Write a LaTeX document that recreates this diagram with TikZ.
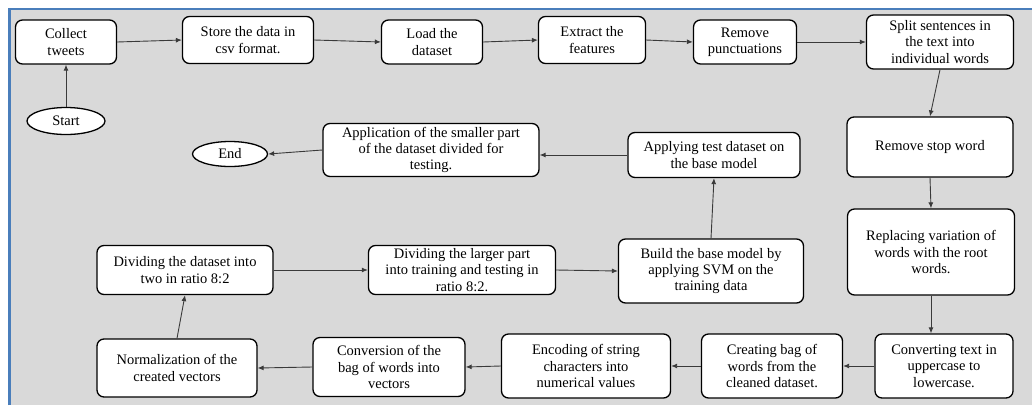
\documentclass[tikz,border=0pt]{standalone}
\usepackage{fontspec}
\setmainfont{Liberation Serif}
\usetikzlibrary{shapes.geometric,arrows.meta}
\definecolor{bggray}{HTML}{D9D9D9}
\definecolor{frameblue}{HTML}{4A7EBB}
\definecolor{linegray}{HTML}{3A3A3A}
\tikzset{
  box/.style={draw=black, line width=1.3pt, rounded corners=7pt, fill=white,
    align=center, inner sep=2pt, font=\fontsize{14.5}{16.3}\selectfont},
  oval/.style={draw=black, line width=1.3pt, ellipse, fill=white, inner sep=0pt,
    font=\fontsize{14.5}{16.3}\selectfont},
  arr/.style={draw=linegray, line width=0.9pt, -{Latex[length=6pt,width=5pt]}}
}
\begin{document}
\begin{tikzpicture}[x=1pt,y=-1pt]
\useasboundingbox (0,0) rectangle (1032,405);
\fill[white] (0,0) rectangle (1032,405);
\fill[bggray] (9,9) rectangle (1032,405);
\draw[frameblue, line width=1.5pt] (9,405) -- (9,9) -- (1032,9);
\draw[frameblue, line width=2.5pt] (9.5,405) -- (9.5,10);

\node[box, minimum width=101pt, minimum height=44pt] (collect) at (66,42) {Collect\\tweets};
\node[oval, minimum width=78pt, minimum height=27pt] (start) at (66,121) {Start};
\node[box, minimum width=131pt, minimum height=47pt] (store) at (248,40) {Store the data in\\csv format.};
\node[box, minimum width=101pt, minimum height=44pt] (load) at (432,42) {Load the\\dataset};
\node[box, minimum width=107pt, minimum height=47pt] (extract) at (592,40) {Extract the\\features};
\node[box, minimum width=103pt, minimum height=44pt] (punct) at (745,42) {Remove\\punctuations};
\node[box, minimum width=147pt, minimum height=54pt] (split) at (940,42) {Split sentences in\\the text into\\individual words};
\node[box, minimum width=166pt, minimum height=60pt] (stop) at (930,147) {Remove stop word};
\node[box, minimum width=167pt, minimum height=86pt] (root) at (931,252) {Replacing variation of\\words with the root\\words.};
\node[box, minimum width=138pt, minimum height=64pt] (lower) at (944,366) {Converting text in\\uppercase to\\lowercase.};
\node[box, minimum width=141pt, minimum height=64pt] (bag) at (772,366) {Creating bag of\\words from the\\cleaned dataset.};
\node[box, minimum width=169pt, minimum height=64pt] (encode) at (586,366) {Encoding of string\\characters into\\numerical values};
\node[box, minimum width=152pt, minimum height=59pt] (vect) at (389,367) {Conversion of the\\bag of words into\\vectors};
\node[box, minimum width=160pt, minimum height=58pt] (norm) at (177,368) {Normalization of the\\created vectors};
\node[box, minimum width=176pt, minimum height=49pt] (divide) at (185,270) {Dividing the dataset into\\two in ratio 8:2};
\node[box, minimum width=187pt, minimum height=49pt] (larger) at (462,270) {Dividing the larger part\\into training and testing in\\ratio 8:2.};
\node[box, minimum width=185pt, minimum height=64pt] (build) at (711,271) {Build the base model by\\applying SVM on the\\training data};
\node[box, minimum width=172pt, minimum height=45pt] (apply) at (714,155) {Applying test dataset on\\the base model};
\node[box, minimum width=216pt, minimum height=53pt] (small) at (431,150) {Application of the smaller part\\of the dataset divided for\\testing.};
\node[oval, minimum width=75pt, minimum height=25pt] (end) at (230,154) {End};

\draw[arr] (start) -- (collect);
\draw[arr] (collect.east) -- (store.west);
\draw[arr] (store.east) -- (load.west);
\draw[arr] (load.east) -- (extract.west);
\draw[arr] (extract.east) -- (punct.west);
\draw[arr] (punct.east) -- (split.west);
\draw[arr] (split.south) -- (stop.north);
\draw[arr] (stop.south) -- (root.north);
\draw[arr] (root.south) -- (root.south |- lower.north);
\draw[arr] (lower.west) -- (bag.east);
\draw[arr] (bag.west) -- (encode.east);
\draw[arr] (encode.west) -- (vect.east);
\draw[arr] (vect.west) -- (norm.east);
\draw[arr] (norm.north) -- (divide.south);
\draw[arr] (divide.east) -- (larger.west);
\draw[arr] (larger.east) -- (build.west);
\draw[arr] (build.north) -- (apply.south);
\draw[arr] (apply.west) -- (apply.west -| small.east);
\draw[arr] (small.west) -- (end.east);
\end{tikzpicture}
\end{document}
